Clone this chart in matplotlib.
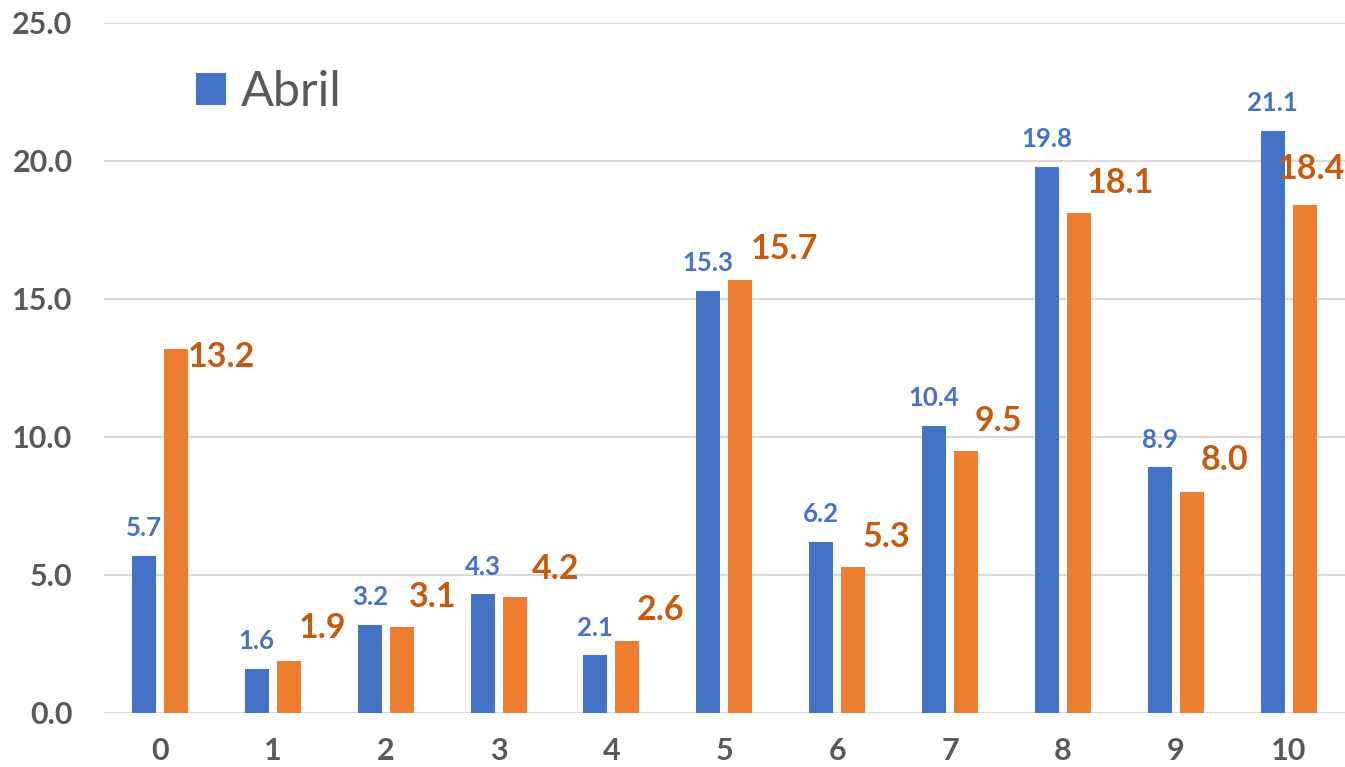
import numpy as np
import matplotlib
matplotlib.use("Agg")
import matplotlib.pyplot as plt

# chart data
categories = ["0", "1", "2", "3", "4", "5", "6", "7", "8", "9", "10"]
abril = [5.7, 1.6, 3.2, 4.3, 2.1, 15.3, 6.2, 10.4, 19.8, 8.9, 21.1]
serie2 = [13.2, 1.9, 3.1, 4.2, 2.6, 15.7, 5.3, 9.5, 18.1, 8.0, 18.4]
y_ticks = [0, 5, 10, 15, 20, 25]

# label placement for the orange series (pixels: dx from bar right edge, baseline above bar top)
orange_offsets = [(0, -18), (-2, 23), (-5, 20), (5, 18), (-3, 21), (-1.5, 21),
                  (-3, 20), (-3, 20), (-4, 20), (-3, 22), (-39, 26)]

BLUE = "#4472C4"
ORANGE = "#ED7D31"
ORANGE_TXT = "#C55A11"
GRAY = "#595959"
GRID = "#D9D9D9"
FONT = "Lato"
PX = 72 / 100  # pixels -> points at dpi 100

plt.rcParams["font.family"] = [FONT, "DejaVu Sans"]

fig = plt.figure(figsize=(13.45, 7.67), dpi=100)
ax = fig.add_axes([103.5 / 1345, 54 / 767, 1 - 103.5 / 1345, 690 / 767])

x = np.arange(len(categories))
w = 0.2126
off = 0.1417
bars_a = ax.bar(x - off, abril, width=w, color=BLUE, label="Abril", zorder=3)
bars_b = ax.bar(x + off, serie2, width=w, color=ORANGE, zorder=3)

for xi, v in zip(x, abril):
    ax.annotate(f"{v:.1f}", (xi - off, v), xytext=(0, 19.5 * PX), textcoords="offset points",
                ha="center", va="baseline", fontsize=18.5, fontweight="bold", color=BLUE)

for xi, v, (dx, dy) in zip(x, serie2, orange_offsets):
    ax.annotate(f"{v:.1f}", (xi + off + w / 2, v), xytext=(dx * PX, dy * PX), textcoords="offset points",
                ha="left", va="baseline", fontsize=24.5, fontweight="bold", color=ORANGE_TXT)

ax.set_xlim(-0.5, len(categories) - 0.5)
ax.set_ylim(0, 25)
ax.set_yticks(y_ticks)
ax.set_yticklabels([f"{t:.1f}" for t in y_ticks])
ax.set_xticks(x)
ax.set_xticklabels(categories)
ax.tick_params(axis="both", length=0, labelsize=22, labelcolor=GRAY)
ax.tick_params(axis="y", pad=31 * PX)
ax.tick_params(axis="x", pad=24 * PX)
for lab in ax.get_xticklabels() + ax.get_yticklabels():
    lab.set_fontweight("bold")

for s in ax.spines.values():
    s.set_visible(False)
ax.yaxis.grid(True, color=GRID, lw=1.6, zorder=0)
ax.set_axisbelow(True)

leg = ax.legend(handles=[bars_a], labels=["Abril"], loc="upper left",
                bbox_to_anchor=(196 / 1345, 1 - 70 / 767), bbox_transform=fig.transFigure,
                frameon=False, fontsize=35, handlelength=0.62, handleheight=0.62,
                handletextpad=0.3, borderpad=0, borderaxespad=0)
for t in leg.get_texts():
    t.set_color(GRAY)

fig.savefig("out.png", dpi=100)
